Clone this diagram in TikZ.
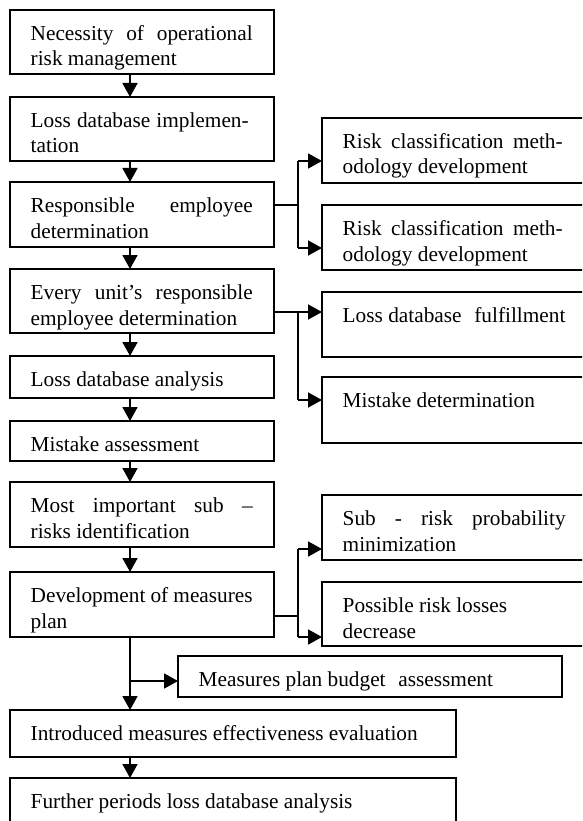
\documentclass[tikz,border=0pt]{standalone}
\usepackage{fontspec}
\setmainfont{Liberation Serif}
\usetikzlibrary{arrows.meta}
\newcommand{\jline}[2]{\makebox[#1][s]{#2}}
\newcommand{\tbox}[2]{\parbox[t]{#1}{#2}}
\begin{document}
\begin{tikzpicture}[x=1pt,y=-1pt,
  box/.style={draw, line width=1.8pt, inner sep=0pt, outer sep=0pt, anchor=north west},
  txt/.style={inner sep=0pt, anchor=base west, font=\fontsize{21.3}{25.5}\selectfont},
  conn/.style={line width=1.8pt},
  arr/.style={line width=1.8pt, -{Triangle[width=15pt,length=14pt]}}]
\path[use as bounding box] (0,0) rectangle (582,821);
\fill[white] (0,0) rectangle (582,821);
\clip (0,0) rectangle (582,821);

% left column boxes
\node[box, minimum width=264pt, minimum height=64pt] (b1) at (10,10) {};
\node[box, minimum width=264pt, minimum height=64pt] (b2) at (10,97) {};
\node[box, minimum width=264pt, minimum height=65pt] (b3) at (10,182) {};
\node[box, minimum width=264pt, minimum height=64pt] (b4) at (10,269) {};
\node[box, minimum width=264pt, minimum height=42pt] (b5) at (10,356) {};
\node[box, minimum width=264pt, minimum height=40pt] (b6) at (10,421) {};
\node[box, minimum width=264pt, minimum height=65pt] (b7) at (10,482) {};
\node[box, minimum width=264pt, minimum height=65pt] (b8) at (10,572) {};
\node[box, minimum width=384pt, minimum height=41pt] (b9) at (178,656) {};
\node[box, minimum width=446pt, minimum height=47pt] (b10) at (10,710) {};
\node[box, minimum width=446pt, minimum height=60pt] (b11) at (10,778) {};

% right column boxes
\node[box, minimum width=270pt, minimum height=65pt] (r1) at (322,118) {};
\node[box, minimum width=270pt, minimum height=65pt] (r2) at (322,205) {};
\node[box, minimum width=270pt, minimum height=65pt] (r3) at (322,292) {};
\node[box, minimum width=270pt, minimum height=66pt] (r4) at (322,377) {};
\node[box, minimum width=270pt, minimum height=65pt] (r5) at (322,495) {};
\node[box, minimum width=270pt, minimum height=64pt] (r6) at (322,582) {};

% texts
\node[txt] (t1) at ([shift={(20.5,30.5)}]b1.north west) {\tbox{222pt}{\jline{222pt}{Necessity of operational}\\risk management}};
\node[txt] (t2) at ([shift={(20.5,30.5)}]b2.north west) {\tbox{222pt}{\jline{218pt}{Loss database implemen-}\\tation}};
\node[txt] (t3) at ([shift={(20.5,30.5)}]b3.north west) {\tbox{222pt}{\jline{222pt}{Responsible employee}\\determination}};
\node[txt] (t4) at ([shift={(20.5,30.5)}]b4.north west) {\tbox{222pt}{\jline{222pt}{Every unit’s responsible}\\employee determination}};
\node[txt] (t5) at ([shift={(20.5,30.5)}]b5.north west) {Loss database analysis};
\node[txt] (t6) at ([shift={(20.5,30.5)}]b6.north west) {Mistake assessment};
\node[txt] (t7) at ([shift={(20.5,30.5)}]b7.north west) {\tbox{222pt}{\jline{222pt}{Most important sub –}\\risks identification}};
\node[txt] (t8) at ([shift={(20.5,30.5)}]b8.north west) {\tbox{222pt}{Development of measures\\plan}};
\node[txt] (t9) at ([shift={(20.5,30.5)}]b9.north west) {Measures plan budget\hspace{0.6em}assessment};
\node[txt] (t10) at ([shift={(20.5,30.5)}]b10.north west) {Introduced measures effectiveness evaluation};
\node[txt] (t11) at ([shift={(20.5,30.5)}]b11.north west) {Further periods loss database analysis};

\node[txt] (s1) at ([shift={(20.5,30.5)}]r1.north west) {\tbox{220pt}{\jline{220pt}{Risk classification meth-}\\odology development}};
\node[txt] (s2) at ([shift={(20.5,30.5)}]r2.north west) {\tbox{220pt}{\jline{220pt}{Risk classification meth-}\\odology development}};
\node[txt] (s3) at ([shift={(20.5,30.5)}]r3.north west) {Loss database\hspace{0.6em}fulfillment};
\node[txt] (s4) at ([shift={(20.5,30.5)}]r4.north west) {Mistake determination};
\node[txt] (s5) at ([shift={(20.5,30.5)}]r5.north west) {\tbox{223pt}{\jline{223pt}{Sub - risk probability}\\minimization}};
\node[txt] (s6) at ([shift={(20.5,30.5)}]r6.north west) {\tbox{223pt}{Possible risk losses\\decrease}};

% main column arrows
\coordinate (cx) at (130,0);
\foreach \a/\b in {b1/b2,b2/b3,b3/b4,b4/b5,b5/b6,b6/b7,b7/b8,b10/b11}
  \draw[arr] (\a.south -| cx) -- (\b.north -| cx);

% branch from b3
\coordinate (j1) at (298,205);
\coordinate (j1a) at (298,161);
\coordinate (j1b) at (298,248);
\draw[conn] (j1 -| b3.east) -- (j1);
\draw[conn] (j1a) -- (j1b);
\draw[arr] (j1a) -- (j1a -| r1.west);
\draw[arr] (j1b) -- (j1b -| r2.west);

% branch from b4
\coordinate (j2a) at (298,312);
\coordinate (j2b) at (298,400);
\draw[arr] (j2a -| b4.east) -- (j2a -| r3.west);
\draw[conn] (j2a) -- (j2b);
\draw[arr] (j2b) -- (j2b -| r4.west);

% branch from b8
\coordinate (j3) at (298,616);
\coordinate (j3a) at (298,549);
\coordinate (j3b) at (298,637);
\draw[conn] (j3 -| b8.east) -- (j3);
\draw[conn] (j3a) -- (j3b);
\draw[arr] (j3a) -- (j3a -| r5.west);
\draw[arr] (j3b) -- (j3b -| r6.west);

% from b8 down to b10, with side branch to b9
\coordinate (j4) at (130,681);
\draw[arr] (b8.south -| cx) -- (b10.north -| cx);
\draw[arr] (j4) -- (j4 -| b9.west);
\end{tikzpicture}
\end{document}
